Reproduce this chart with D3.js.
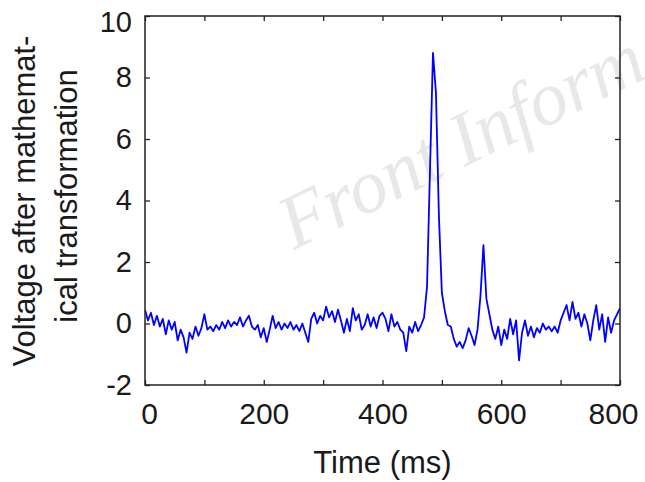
<!DOCTYPE html>
<html>
<head>
<meta charset="utf-8">
<script src="https://cdn.jsdelivr.net/npm/d3@7"></script>
<style>
  body { margin: 0; background: #fff; }
  text { font-family: "Liberation Sans", Arial, sans-serif; fill: #1a1a1a; }
</style>
</head>
<body>
<script>
var timeStep = 5;
var voltage = [
  0.45, 0.1, 0.35, -0.05, 0.25, -0.1, 0.15, -0.35, 0.1, -0.2,
  0.05, -0.55, -0.2, -0.45, -0.95, -0.3, -0.5, -0.1, -0.4, -0.15,
  0.3, -0.2, -0.1, -0.25, -0.05, -0.2, 0.05, -0.15, 0.1, -0.1,
  0.05, -0.05, 0.2, -0.1, 0.1, 0.25, -0.1, -0.2, -0.05, -0.45,
  -0.15, -0.6, -0.2, 0.25, -0.15, 0.05, -0.2, 0.0, -0.15, 0.05,
  -0.2, -0.05, -0.25, 0.0, -0.3, -0.6, 0.15, 0.35, 0.0, 0.25,
  0.1, 0.55, 0.2, 0.4, 0.05, 0.45, 0.1, -0.3, 0.15, -0.25,
  0.5, 0.1, 0.3, -0.2, -0.05, 0.3, -0.1, 0.2, -0.15, 0.25,
  0.35, 0.15, -0.25, 0.3, -0.1, 0.05, -0.2, -0.3, -0.9, -0.1,
  -0.3, 0.05, -0.25, -0.05, 0.2, 1.2, 5.0, 8.8, 7.5, 3.5,
  1.0, 0.4, -0.05, -0.1, -0.5, -0.75, -0.6, -0.8, -0.55, -0.15,
  -0.4, -0.7, -0.2, 0.9, 2.55, 0.8, 0.3, -0.2, -0.5, -0.1,
  -0.7, -0.2, -0.5, 0.15, -0.35, 0.1, -1.2, -0.3, 0.1, -0.4,
  -0.1, -0.45, -0.15, -0.3, 0.0, -0.2, -0.1, -0.25, -0.1, -0.3,
  0.1, 0.35, 0.6, 0.1, 0.7, 0.15, 0.35, -0.1, 0.3, 0.0,
  -0.55, 0.1, 0.6, -0.2, 0.3, -0.6, 0.2, -0.3, 0.1, 0.3,
  0.5
];
var xTicks = [0, 100, 200, 300, 400, 500, 600, 700, 800];
var xLabels = [0, 200, 400, 600, 800];
var yTicks = [-2, 0, 2, 4, 6, 8, 10];

var width = 645, height = 482;
var plotLeft = 145, plotRight = 620, plotTop = 16, plotBottom = 385;

var svg = d3.select("body").append("svg")
  .attr("width", width)
  .attr("height", height);

var x = d3.scaleLinear().domain([0, 800]).range([plotLeft, plotRight]);
var y = d3.scaleLinear().domain([-2, 10]).range([plotBottom, plotTop]);

// watermark
svg.append("text")
  .attr("transform", "translate(294,250) rotate(-26)")
  .style("font-family", "'Liberation Serif', serif")
  .style("font-style", "italic")
  .style("font-size", "76px")
  .style("fill", "#e8e8e8")
  .text("Front Inform");

// signal
svg.append("clipPath").attr("id", "plotclip")
  .append("rect")
  .attr("x", plotLeft).attr("y", plotTop)
  .attr("width", plotRight - plotLeft).attr("height", plotBottom - plotTop);

var line = d3.line()
  .x(function(d, i) { return x(i * timeStep); })
  .y(function(d) { return y(d); });

svg.append("path")
  .datum(voltage)
  .attr("clip-path", "url(#plotclip)")
  .attr("fill", "none")
  .attr("stroke", "#0000ff")
  .attr("stroke-width", 1.8)
  .attr("stroke-linejoin", "round")
  .attr("d", line);

// axes (ticks point inward, mirrored on top and right)
var fmtX = function(d) { return xLabels.indexOf(d) >= 0 ? String(d) : ""; };

var xAxis = svg.append("g")
  .attr("transform", "translate(0," + plotBottom + ")")
  .call(d3.axisBottom(x).tickValues(xTicks).tickFormat(fmtX)
    .tickSizeInner(-5).tickSizeOuter(0).tickPadding(18));
xAxis.selectAll("text")
  .style("font-size", "30px")
  .attr("dx", function(d) { return d === 0 ? 4 : d === 800 ? -7 : 0; });

svg.append("g")
  .attr("transform", "translate(0," + plotTop + ")")
  .call(d3.axisTop(x).tickValues(xTicks).tickFormat("")
    .tickSizeInner(-5).tickSizeOuter(0));

var yAxis = svg.append("g")
  .attr("transform", "translate(" + plotLeft + ",0)")
  .call(d3.axisLeft(y).tickValues(yTicks).tickFormat(function(d) { return String(d); })
    .tickSizeInner(-5).tickSizeOuter(0).tickPadding(13));
yAxis.selectAll("text")
  .style("font-size", "29px")
  .attr("dy", function(d) { return d === 10 ? "0.55em" : "0.32em"; });

svg.append("g")
  .attr("transform", "translate(" + plotRight + ",0)")
  .call(d3.axisRight(y).tickValues(yTicks).tickFormat("")
    .tickSizeInner(-5).tickSizeOuter(0));

svg.selectAll(".domain").remove();
svg.selectAll(".tick line").attr("stroke", "#222").attr("stroke-width", 1.3);
svg.selectAll(".tick text").style("fill", "#1a1a1a").style("font-family", "'Liberation Sans', Arial, sans-serif");

svg.append("rect")
  .attr("x", plotLeft).attr("y", plotTop)
  .attr("width", plotRight - plotLeft).attr("height", plotBottom - plotTop)
  .attr("fill", "none")
  .attr("stroke", "#222")
  .attr("stroke-width", 1.5);

// titles
svg.append("text")
  .attr("x", (plotLeft + plotRight) / 2)
  .attr("y", 473)
  .attr("text-anchor", "middle")
  .style("font-size", "31px")
  .text("Time (ms)");

svg.append("text")
  .attr("transform", "translate(35,201) rotate(-90)")
  .attr("text-anchor", "middle")
  .style("font-size", "31px")
  .text("Voltage after mathemat-");

svg.append("text")
  .attr("transform", "translate(77,196) rotate(-90)")
  .attr("text-anchor", "middle")
  .style("font-size", "31px")
  .text("ical transformation");
</script>
</body>
</html>
